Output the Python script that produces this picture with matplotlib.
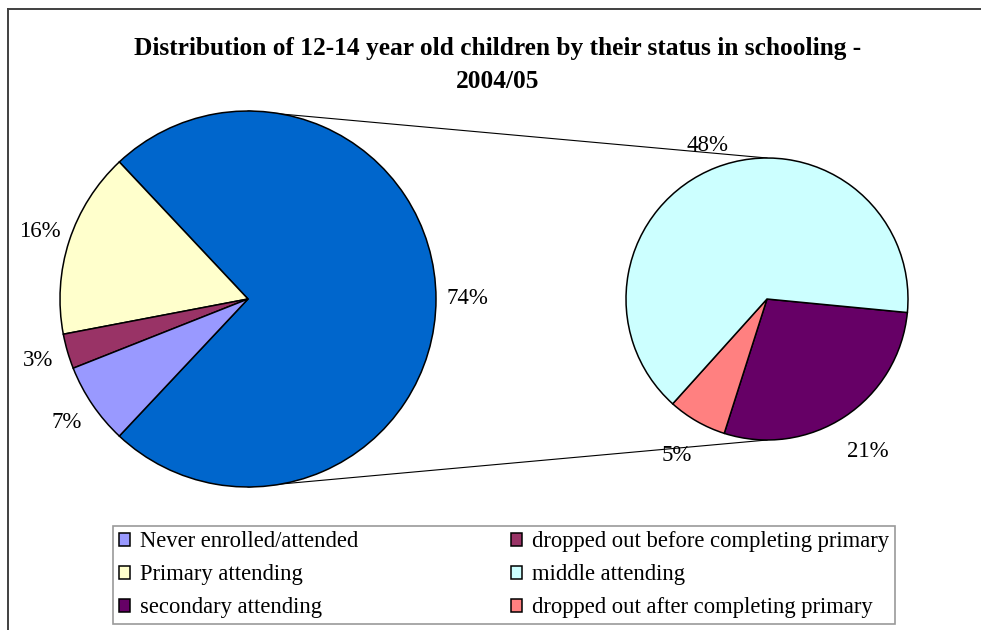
import matplotlib
matplotlib.use("Agg")
import matplotlib.pyplot as plt
from matplotlib.patches import Patch
import numpy as np

# Schooling status of 12-14 year olds, 2004/05 (percent of all children)
categories = [
    "Never enrolled/attended",
    "dropped out before completing primary",
    "Primary attending",
    "middle attending",
    "secondary attending",
    "dropped out after completing primary",
]
shares = [7, 3, 16, 48, 21, 5]
colors = ["#9999FF", "#993366", "#FFFFCC", "#CCFFFF", "#660066", "#FF8080"]
title_lines = ["Distribution of 12-14 year old children by their status in schooling -", "2004/05"]

# Which categories go in the main pie and which are broken out into the small pie
main_order = [2, 1, 0]        # counterclockwise after the combined wedge
second_order = [4, 5, 3]      # clockwise from the split point
other_color = "#0066CC"

W, H = 981, 630
SERIF = "Liberation Serif"

fig = plt.figure(figsize=(W / 100, H / 100), dpi=100)
ax = fig.add_axes([0, 0, 1, 1])

main_center, main_r = (248, H - 299), 188
sec_center, sec_r = (767, H - 299), 141
edge = dict(edgecolor="black", linewidth=1.1)

total = sum(shares)
other = sum(shares[i] for i in second_order)
main_vals = [other] + [shares[i] for i in main_order]
main_cols = [other_color] + [colors[i] for i in main_order]

# connector lines from the main pie to the broken-out pie
ax.plot([main_center[0], sec_center[0]], [main_center[1] + main_r, sec_center[1] + sec_r],
        color="black", lw=0.8, zorder=0)
ax.plot([main_center[0], sec_center[0]], [main_center[1] - main_r, sec_center[1] - sec_r],
        color="black", lw=0.8, zorder=0)

main_wedges, _ = ax.pie(main_vals, colors=main_cols, center=main_center, radius=main_r,
                        startangle=-other / total * 180, counterclock=True,
                        wedgeprops=edge, frame=False)

sec_vals = [shares[i] for i in second_order]
sec_cols = [colors[i] for i in second_order]
sec_wedges, _ = ax.pie(sec_vals, colors=sec_cols, center=sec_center, radius=sec_r,
                       startangle=-5.5, counterclock=False,
                       wedgeprops=edge, frame=False)

label_font = dict(family=SERIF, fontsize=16.5, ha="center", va="center")


def put_label(wedge, value, center, r, dist):
    mid = np.deg2rad((wedge.theta1 + wedge.theta2) / 2)
    ax.text(center[0] + dist * r * np.cos(mid), center[1] + dist * r * np.sin(mid),
            f"{value}%", **label_font)


for w, v in zip(main_wedges, main_vals):
    put_label(w, v, main_center, main_r, 1.165)
for w, v, d in zip(sec_wedges, sec_vals, [1.30, 1.28, 1.17]):
    put_label(w, v, sec_center, sec_r, d)

# title
for k, line in enumerate(title_lines):
    ax.text(498, H - 48 - 33 * k, line, family=SERIF, fontweight="bold",
            fontsize=18.3, ha="center", va="center")

# outer chart border
ax.plot([8, 8], [-5, H - 9], color="#404040", lw=1.4, clip_on=False)
ax.plot([8, W + 5], [H - 9, H - 9], color="#404040", lw=1.4, clip_on=False)

ax.set_xlim(0, W)
ax.set_ylim(0, H)
ax.set_aspect("auto")
ax.axis("off")

# legend: row-major reading order in two columns
leg_idx = [0, 2, 4, 1, 3, 5]
handles = [Patch(facecolor=colors[i], edgecolor="black", linewidth=1.1) for i in leg_idx]
labels = [categories[i] for i in leg_idx]
leg = fig.legend(handles, labels, ncol=2, loc="lower left",
                 bbox_to_anchor=(113 / W, 1 - 624 / H, 782 / W, 102 / H), mode="expand",
                 frameon=True, fancybox=False, edgecolor="#808080",
                 prop=dict(family=SERIF, size=16.3), handlelength=0.5, handleheight=0.5,
                 handletextpad=0.45, borderpad=0.25, labelspacing=0.53, borderaxespad=0)
leg.get_frame().set_linewidth(1.2)

fig.savefig("out.png", dpi=100, facecolor="white")
